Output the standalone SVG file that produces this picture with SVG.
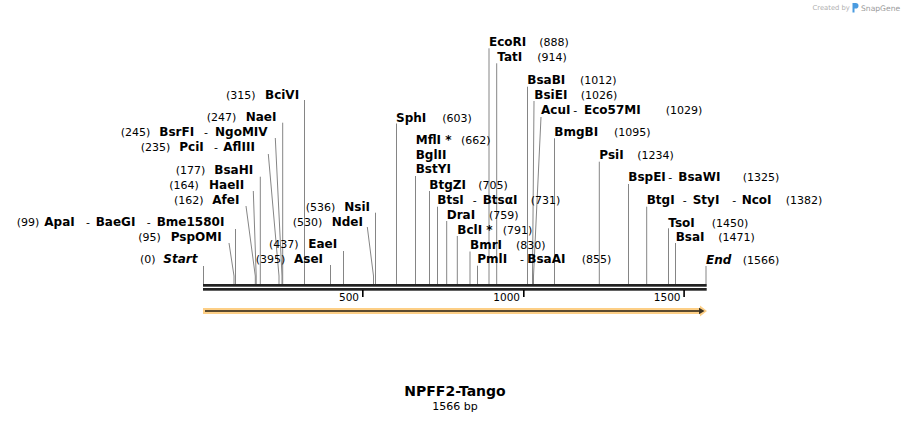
<svg xmlns="http://www.w3.org/2000/svg" width="910" height="423" viewBox="0 0 910 423">
<style>
text{font-family:"DejaVu Sans","Liberation Sans",sans-serif;fill:#000}
.n{font-weight:bold;font-size:12px}
.i{font-weight:bold;font-style:italic;font-size:12px}
.p{font-size:11px}
.d{font-size:11px}
.t{font-size:10.5px}
.c line,.c polyline{stroke:#858585;stroke-width:1;fill:none}
</style>
<rect width="910" height="423" fill="#fff"/>
<g id="watermark">
<text x="812.5" y="10" style="font-size:6.8px;fill:#b0b0b0">Created by</text>
<path d="M852.5 3h3.2a2.8 2.8 0 0 1 0 5.6h-1.2v4h-2z" fill="#4a9be0"/>
<text x="861" y="11" style="font-size:7.6px;fill:#9a9a9a">SnapGene</text>
</g>
<g id="connectors" class="c">
<line x1="489" y1="48.3" x2="489" y2="284"/>
<line x1="496.7" y1="63.3" x2="496.7" y2="284"/>
<line x1="527.5" y1="86.7" x2="527.5" y2="284"/>
<polyline points="534,101 532.5,276 532.5,284"/>
<polyline points="541,117 533.5,276 533.5,284"/>
<line x1="554.5" y1="138.3" x2="554.5" y2="284"/>
<line x1="599.3" y1="161.7" x2="599.3" y2="284"/>
<line x1="628.5" y1="184" x2="628.5" y2="284"/>
<line x1="646.7" y1="206.7" x2="646.7" y2="284"/>
<line x1="668.5" y1="228.3" x2="668.5" y2="284"/>
<line x1="675.5" y1="243" x2="675.5" y2="284"/>
<line x1="706" y1="266" x2="706" y2="284"/>
<line x1="396.5" y1="123.5" x2="396.5" y2="284"/>
<line x1="415.5" y1="176" x2="415.5" y2="284"/>
<line x1="429.5" y1="191" x2="429.5" y2="284"/>
<line x1="437.5" y1="206.7" x2="437.5" y2="284"/>
<line x1="446.7" y1="221" x2="446.7" y2="284"/>
<line x1="457.3" y1="236" x2="457.3" y2="284"/>
<line x1="470" y1="251.5" x2="470" y2="284"/>
<line x1="477.5" y1="265.7" x2="477.5" y2="284"/>
<line x1="304.5" y1="100" x2="304.5" y2="284"/>
<line x1="282.7" y1="122.7" x2="282.7" y2="284"/>
<polyline points="275.3,138 282,276 282,284"/>
<polyline points="268.3,154 279,276 279,284"/>
<line x1="260.3" y1="176.7" x2="260.3" y2="284"/>
<polyline points="253.3,191 256.2,276 256.2,284"/>
<polyline points="246,206 255.3,276 255.3,284"/>
<line x1="235.5" y1="229" x2="235.5" y2="284"/>
<polyline points="229,243 234,276 234,284"/>
<line x1="203.5" y1="266" x2="203.5" y2="284"/>
<line x1="375.5" y1="212.7" x2="375.5" y2="284"/>
<polyline points="367.3,227 373.5,276 373.5,284"/>
<line x1="343.5" y1="251" x2="343.5" y2="284"/>
<line x1="330.5" y1="265" x2="330.5" y2="284"/>
</g>
<g id="backbone">
<rect x="203" y="284" width="503.7" height="2.7" fill="#222"/>
<rect x="203" y="288" width="503.7" height="2.7" fill="#222"/>
<rect x="362" y="290" width="1.6" height="7" fill="#000"/>
<rect x="523" y="290" width="1.6" height="7" fill="#000"/>
<rect x="683.3" y="290" width="1.6" height="7" fill="#000"/>
<text class="t" x="359" y="300.7" text-anchor="end">500</text>
<text class="t" x="520" y="300.7" text-anchor="end">1000</text>
<text class="t" x="680.5" y="300.7" text-anchor="end">1500</text>
</g>
<g id="feature">
<polygon points="203,308 700,308 700,305.5 707,311 700,316.5 700,314 203,314" fill="#fdcf86"/>
<rect x="205" y="310" width="495" height="2" fill="#5b4a2e"/>
<polygon points="699,307.8 704.5,311 699,314.2" fill="#3d3322"/>
</g>
<g id="EcoRI"><text class="n" x="489" y="45.7">EcoRI</text><text class="p" x="539.3" y="45.7">(888)</text></g>
<g id="TatI"><text class="n" x="497.3" y="61">TatI</text><text class="p" x="537.3" y="61">(914)</text></g>
<g id="BsaBI"><text class="n" x="527.3" y="84">BsaBI</text><text class="p" x="580" y="84">(1012)</text></g>
<g id="BsiEI"><text class="n" x="534.3" y="99">BsiEI</text><text class="p" x="580.7" y="99">(1026)</text></g>
<g id="AcuI"><text class="n" x="541" y="114.3">AcuI</text><text class="d" x="573.3" y="114.3">-</text><text class="n" x="584" y="114.3">Eco57MI</text><text class="p" x="665.7" y="114.3">(1029)</text></g>
<g id="BmgBI"><text class="n" x="554.3" y="136">BmgBI</text><text class="p" x="614" y="136">(1095)</text></g>
<g id="PsiI"><text class="n" x="599.3" y="159.3">PsiI</text><text class="p" x="637.3" y="159.3">(1234)</text></g>
<g id="BspEI"><text class="n" x="628.3" y="181">BspEI</text><text class="d" x="668.3" y="181">-</text><text class="n" x="678.3" y="181">BsaWI</text><text class="p" x="742.7" y="181">(1325)</text></g>
<g id="BtgI"><text class="n" x="646.7" y="204">BtgI</text><text class="d" x="682.7" y="204">-</text><text class="n" x="692.7" y="204">StyI</text><text class="d" x="732.3" y="204">-</text><text class="n" x="741.7" y="204">NcoI</text><text class="p" x="785.7" y="204">(1382)</text></g>
<g id="TsoI"><text class="n" x="668.3" y="226.7">TsoI</text><text class="p" x="711.7" y="226.7">(1450)</text></g>
<g id="BsaI"><text class="n" x="675.7" y="241">BsaI</text><text class="p" x="718.3" y="241">(1471)</text></g>
<g id="End"><text class="i" x="706" y="264">End</text><text class="p" x="742.7" y="264">(1566)</text></g>
<g id="SphI"><text class="n" x="396" y="121.7">SphI</text><text class="p" x="442.3" y="121.7">(603)</text></g>
<g id="MflI"><text class="n" x="415.7" y="144.3">MflI *</text><text class="p" x="461" y="144.3">(662)</text><text class="n" x="415.7" y="159">BglII</text><text class="n" x="415.7" y="173.3">BstYI</text></g>
<g id="BtgZI"><text class="n" x="429.3" y="189">BtgZI</text><text class="p" x="478.3" y="189">(705)</text></g>
<g id="BtsI"><text class="n" x="437.3" y="204">BtsI</text><text class="d" x="472.7" y="204">-</text><text class="n" x="482.7" y="204">BtsαI</text><text class="p" x="530.7" y="204">(731)</text></g>
<g id="DraI"><text class="n" x="446.7" y="219">DraI</text><text class="p" x="489" y="219">(759)</text></g>
<g id="BclI"><text class="n" x="457.3" y="234">BclI *</text><text class="p" x="502.7" y="234">(791)</text></g>
<g id="BmrI"><text class="n" x="470" y="249.3">BmrI</text><text class="p" x="516" y="249.3">(830)</text></g>
<g id="PmlI"><text class="n" x="477.3" y="263.3">PmlI</text><text class="d" x="520" y="263.3">-</text><text class="n" x="527.3" y="263.3">BsaAI</text><text class="p" x="581.7" y="263.3">(855)</text></g>
<g id="BciVI"><text class="p" x="226" y="99">(315)</text><text class="n" x="265" y="99">BciVI</text></g>
<g id="NaeI"><text class="p" x="206.7" y="120.7">(247)</text><text class="n" x="245.7" y="120.7">NaeI</text></g>
<g id="BsrFI"><text class="p" x="120.7" y="136">(245)</text><text class="n" x="159.3" y="136">BsrFI</text><text class="d" x="204" y="136">-</text><text class="n" x="215" y="136">NgoMIV</text></g>
<g id="PciI"><text class="p" x="140.7" y="150.7">(235)</text><text class="n" x="179.3" y="150.7">PciI</text><text class="d" x="214" y="150.7">-</text><text class="n" x="223.3" y="150.7">AflIII</text></g>
<g id="BsaHI"><text class="p" x="175.7" y="174">(177)</text><text class="n" x="214.3" y="174">BsaHI</text></g>
<g id="HaeII"><text class="p" x="169.3" y="189">(164)</text><text class="n" x="209" y="189">HaeII</text></g>
<g id="AfeI"><text class="p" x="174" y="204">(162)</text><text class="n" x="212.3" y="204">AfeI</text></g>
<g id="ApaI"><text class="p" x="16.7" y="226">(99)</text><text class="n" x="44.3" y="226">ApaI</text><text class="d" x="86" y="226">-</text><text class="n" x="95.7" y="226">BaeGI</text><text class="d" x="146.7" y="226">-</text><text class="n" x="156.7" y="226">Bme1580I</text></g>
<g id="PspOMI"><text class="p" x="138.3" y="240.7">(95)</text><text class="n" x="170.7" y="240.7">PspOMI</text></g>
<g id="Start"><text class="p" x="140" y="263.3">(0)</text><text class="i" x="163.3" y="263.3">Start</text></g>
<g id="NsiI"><text class="p" x="305.7" y="210.7">(536)</text><text class="n" x="344.3" y="210.7">NsiI</text></g>
<g id="NdeI"><text class="p" x="292.7" y="225.7">(530)</text><text class="n" x="331.7" y="225.7">NdeI</text></g>
<g id="EaeI"><text class="p" x="269" y="248.3">(437)</text><text class="n" x="308.3" y="248.3">EaeI</text></g>
<g id="AseI"><text class="p" x="255.7" y="262.7">(395)</text><text class="n" x="294" y="262.7">AseI</text></g>
<g id="title">
<text x="455" y="396" text-anchor="middle" style="font-weight:bold;font-size:14px">NPFF2-Tango</text>
<text x="455" y="410" text-anchor="middle" style="font-size:11px">1566 bp</text>
</g>
</svg>
